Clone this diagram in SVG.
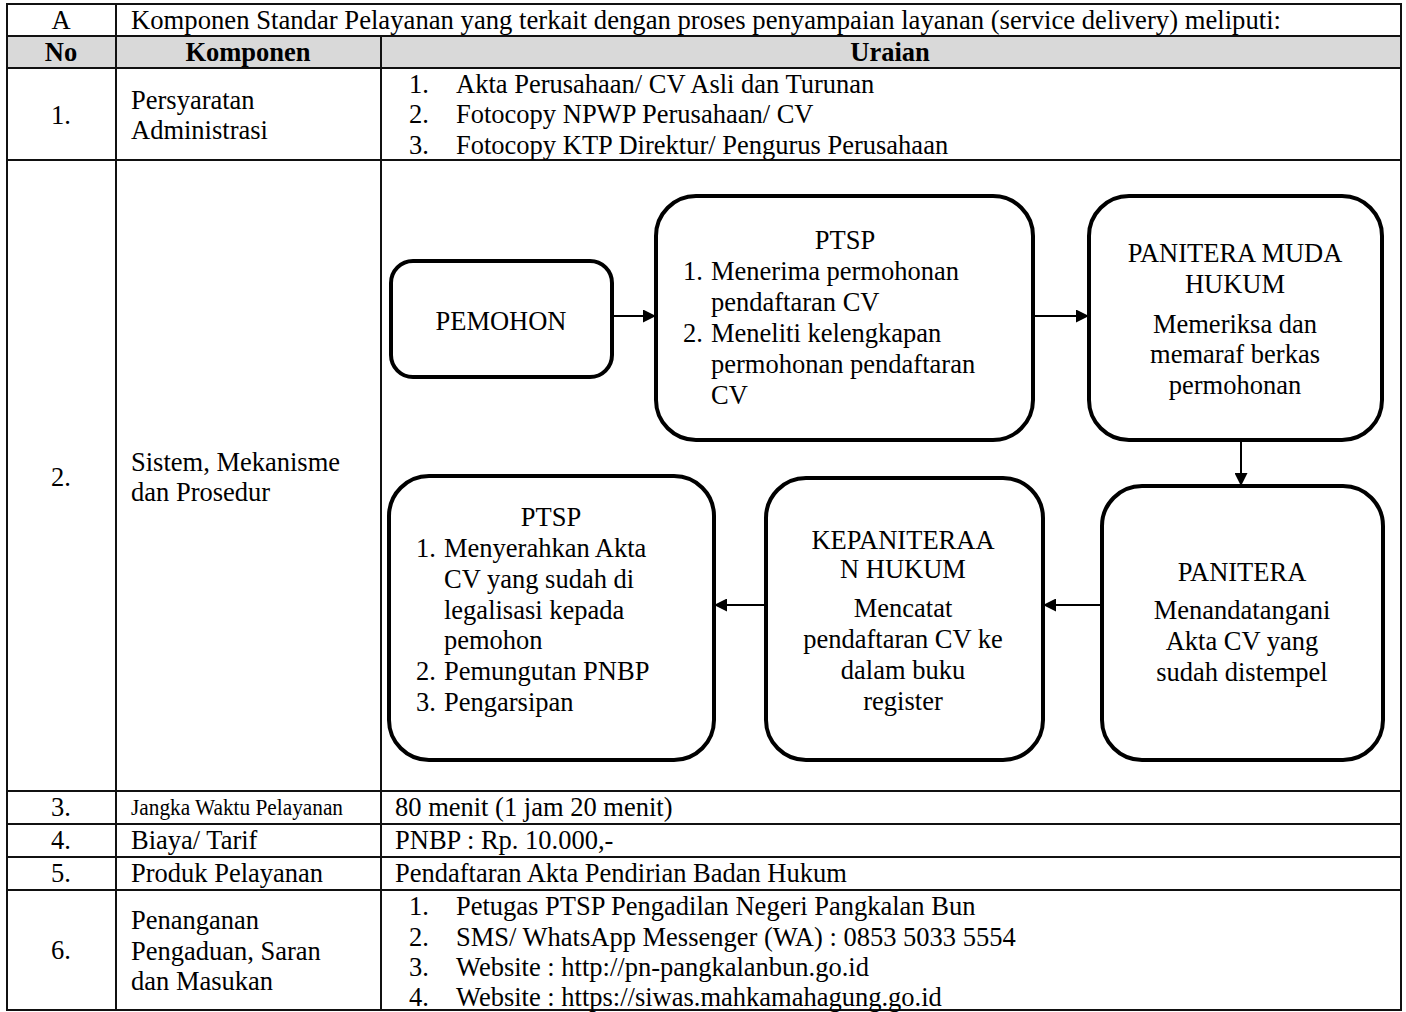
<svg xmlns="http://www.w3.org/2000/svg" width="1406" height="1012" viewBox="0 0 1406 1012">
<defs>
<style>
text{font-family:"Liberation Serif","Times New Roman",serif;font-size:26.5px;fill:#000}
.b{font-weight:bold}
.c{text-anchor:middle}
.grid{stroke:#111;stroke-width:2;fill:none}
.node rect{fill:#fff;stroke:#000;stroke-width:4}
.conn line{stroke:#000;stroke-width:2}
</style>
<marker id="ah" viewBox="0 0 10 10" refX="10" refY="5" markerWidth="13" markerHeight="13" orient="auto" markerUnits="userSpaceOnUse">
<path d="M0,0 L10,5 L0,10 z" fill="#000"/>
</marker>
</defs>
<rect width="1406" height="1012" fill="#fff"/>
<g id="table">
<rect x="7" y="36" width="1394" height="32" fill="#d9d9d9"/>
<rect class="grid" x="7" y="4" width="1394" height="1006"/>
<line class="grid" x1="7" y1="36" x2="1401" y2="36"/>
<line class="grid" x1="7" y1="68" x2="1401" y2="68"/>
<line class="grid" x1="7" y1="160" x2="1401" y2="160"/>
<line class="grid" x1="7" y1="791" x2="1401" y2="791"/>
<line class="grid" x1="7" y1="824" x2="1401" y2="824"/>
<line class="grid" x1="7" y1="857" x2="1401" y2="857"/>
<line class="grid" x1="7" y1="890" x2="1401" y2="890"/>
<line class="grid" x1="116" y1="4" x2="116" y2="1010"/>
<line class="grid" x1="381" y1="36" x2="381" y2="1010"/>
</g>
<g id="texts">
<text class="c" x="61" y="29">A</text>
<text x="131" y="29" textLength="1150" lengthAdjust="spacingAndGlyphs">Komponen Standar Pelayanan yang terkait dengan proses penyampaian layanan (service delivery) meliputi:</text>
<text class="b c" x="61" y="61">No</text>
<text class="b c" x="248" y="61">Komponen</text>
<text class="b c" x="890" y="61">Uraian</text>
<text class="c" x="61" y="124">1.</text>
<text x="131" y="109">Persyaratan</text>
<text x="131" y="139">Administrasi</text>
<text x="409" y="93">1.</text><text x="456" y="93">Akta Perusahaan/ CV Asli dan Turunan</text>
<text x="409" y="123">2.</text><text x="456" y="123">Fotocopy NPWP Perusahaan/ CV</text>
<text x="409" y="154">3.</text><text x="456" y="154">Fotocopy KTP Direktur/ Pengurus Perusahaan</text>
<text class="c" x="61" y="486">2.</text>
<text x="131" y="471">Sistem, Mekanisme</text>
<text x="131" y="501">dan Prosedur</text>
<text class="c" x="61" y="816">3.</text>
<text x="131" y="815" style="font-size:24px" textLength="212" lengthAdjust="spacingAndGlyphs">Jangka Waktu Pelayanan</text>
<text x="395" y="816">80 menit (1 jam 20 menit)</text>
<text class="c" x="61" y="849">4.</text>
<text x="131" y="849">Biaya/ Tarif</text>
<text x="395" y="849">PNBP : Rp. 10.000,-</text>
<text class="c" x="61" y="882">5.</text>
<text x="131" y="882">Produk Pelayanan</text>
<text x="395" y="882">Pendaftaran Akta Pendirian Badan Hukum</text>
<text class="c" x="61" y="959">6.</text>
<text x="131" y="929">Penanganan</text>
<text x="131" y="960">Pengaduan, Saran</text>
<text x="131" y="990">dan Masukan</text>
<text x="409" y="915">1.</text><text x="456" y="915">Petugas PTSP Pengadilan Negeri Pangkalan Bun</text>
<text x="409" y="946">2.</text><text x="456" y="946">SMS/ WhatsApp Messenger (WA) : 0853 5033 5554</text>
<text x="409" y="976">3.</text><text x="456" y="976">Website : http://pn-pangkalanbun.go.id</text>
<text x="409" y="1006">4.</text><text x="456" y="1006">Website : https://siwas.mahkamahagung.go.id</text>
</g>
<g id="connectors" class="conn">
<line x1="612" y1="316" x2="656" y2="316" marker-end="url(#ah)"/>
<line x1="1033" y1="316" x2="1089" y2="316" marker-end="url(#ah)"/>
<line x1="1241" y1="440" x2="1241" y2="486" marker-end="url(#ah)"/>
<line x1="1101" y1="605" x2="1043" y2="605" marker-end="url(#ah)"/>
<line x1="766" y1="605" x2="714" y2="605" marker-end="url(#ah)"/>
</g>
<g id="n-pemohon" class="node">
<rect x="391" y="261" width="221" height="116" rx="22"/>
<text class="c" x="501" y="330">PEMOHON</text>
</g>
<g id="n-ptsp1" class="node">
<rect x="656" y="196" width="377" height="244" rx="40"/>
<text class="c" x="845" y="249">PTSP</text>
<text x="683" y="280">1.</text><text x="711" y="280">Menerima permohonan</text>
<text x="711" y="311">pendaftaran CV</text>
<text x="683" y="342">2.</text><text x="711" y="342">Meneliti kelengkapan</text>
<text x="711" y="373">permohonan pendaftaran</text>
<text x="711" y="404">CV</text>
</g>
<g id="n-panmud" class="node">
<rect x="1089" y="196" width="293" height="244" rx="40"/>
<text class="c" x="1235" y="262">PANITERA MUDA</text>
<text class="c" x="1235" y="293">HUKUM</text>
<text class="c" x="1235" y="333">Memeriksa dan</text>
<text class="c" x="1235" y="363">memaraf berkas</text>
<text class="c" x="1235" y="394">permohonan</text>
</g>
<g id="n-panitera" class="node">
<rect x="1102" y="486" width="281" height="274" rx="40"/>
<text class="c" x="1242" y="581">PANITERA</text>
<text class="c" x="1242" y="619">Menandatangani</text>
<text class="c" x="1242" y="650">Akta CV yang</text>
<text class="c" x="1242" y="681">sudah distempel</text>
</g>
<g id="n-kepaniteraan" class="node">
<rect x="766" y="478" width="277" height="282" rx="40"/>
<text class="c" x="903" y="549">KEPANITERAA</text>
<text class="c" x="903" y="578">N HUKUM</text>
<text class="c" x="903" y="617">Mencatat</text>
<text class="c" x="903" y="648">pendaftaran CV ke</text>
<text class="c" x="903" y="679">dalam buku</text>
<text class="c" x="903" y="710">register</text>
</g>
<g id="n-ptsp2" class="node">
<rect x="389" y="476" width="325" height="284" rx="40"/>
<text class="c" x="551" y="526">PTSP</text>
<text x="416" y="557">1.</text><text x="444" y="557">Menyerahkan Akta</text>
<text x="444" y="588">CV yang sudah di</text>
<text x="444" y="619">legalisasi kepada</text>
<text x="444" y="649">pemohon</text>
<text x="416" y="680">2.</text><text x="444" y="680">Pemungutan PNBP</text>
<text x="416" y="711">3.</text><text x="444" y="711">Pengarsipan</text>
</g>
</svg>
